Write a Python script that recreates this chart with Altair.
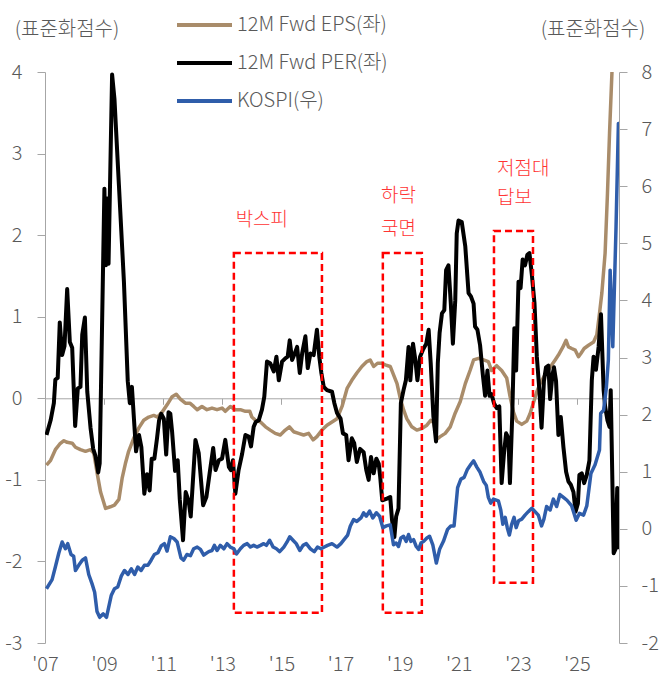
import altair as alt
import pandas as pd

# ---- series (standardised scores) ----
PER_YEAR = [2007.05, 2007.19, 2007.30, 2007.35, 2007.43, 2007.50, 2007.58, 2007.66, 2007.75, 2007.84,
            2007.92, 2008.02, 2008.11, 2008.20, 2008.26, 2008.35, 2008.43, 2008.54, 2008.63, 2008.71,
            2008.80, 2008.85, 2009.01, 2009.06, 2009.11, 2009.15, 2009.27, 2009.35, 2009.50, 2009.67,
            2009.80, 2009.87, 2009.94, 2010.08, 2010.18, 2010.26, 2010.36, 2010.45, 2010.54, 2010.61,
            2010.70, 2010.79, 2010.86, 2010.93, 2011.02, 2011.10, 2011.18, 2011.24, 2011.30, 2011.40,
            2011.49, 2011.56, 2011.67, 2011.76, 2011.86, 2011.93, 2012.09, 2012.20, 2012.35, 2012.46,
            2012.57, 2012.69, 2012.77, 2012.88, 2012.99, 2013.10, 2013.22, 2013.29, 2013.36, 2013.44,
            2013.55, 2013.67, 2013.78, 2013.89, 2013.97, 2014.06, 2014.13, 2014.23, 2014.34, 2014.42,
            2014.51, 2014.62, 2014.74, 2014.83, 2014.91, 2015.02, 2015.13, 2015.21, 2015.28, 2015.36,
            2015.45, 2015.53, 2015.62, 2015.70, 2015.81, 2015.89, 2015.98, 2016.09, 2016.20, 2016.28,
            2016.35, 2016.43, 2016.54, 2016.71, 2016.79, 2016.88, 2017.00, 2017.08, 2017.19, 2017.27,
            2017.38, 2017.46, 2017.55, 2017.66, 2017.78, 2017.87, 2017.95, 2018.03, 2018.12, 2018.21,
            2018.29, 2018.34, 2018.41, 2018.57, 2018.68, 2018.74, 2018.82, 2018.88, 2018.96, 2019.04,
            2019.13, 2019.21, 2019.30, 2019.36, 2019.45, 2019.53, 2019.60, 2019.69, 2019.78, 2019.90,
            2019.98, 2020.05, 2020.14, 2020.23, 2020.29, 2020.35, 2020.43, 2020.51, 2020.57, 2020.65,
            2020.73, 2020.80, 2020.88, 2020.93, 2020.99, 2021.10, 2021.22, 2021.33, 2021.41, 2021.50,
            2021.55, 2021.63, 2021.72, 2021.81, 2021.89, 2021.97, 2022.04, 2022.11, 2022.19, 2022.28,
            2022.37, 2022.45, 2022.53, 2022.60, 2022.68, 2022.73, 2022.81, 2022.88, 2022.94, 2023.02,
            2023.09, 2023.16, 2023.24, 2023.32, 2023.39, 2023.47, 2023.56, 2023.64, 2023.73, 2023.80,
            2023.88, 2023.95, 2024.03, 2024.09, 2024.17, 2024.22, 2024.29, 2024.37, 2024.45, 2024.54,
            2024.63, 2024.71, 2024.79, 2024.88, 2024.95, 2025.03, 2025.08, 2025.16, 2025.24, 2025.33,
            2025.42, 2025.50, 2025.56, 2025.64, 2025.73, 2025.81, 2025.90, 2025.95, 2026.03, 2026.10,
            2026.14, 2026.24, 2026.30, 2026.36, 2026.40]
PER_VALUE = [-0.45, -0.27, -0.06, 0.23, 0.25, 0.93, 0.53, 0.64, 1.34, 0.69,
             0.62, -0.34, 0.12, 0.14, 0.78, 0.99, 0.08, -0.36, -0.62, -0.71,
             -0.91, -0.80, 2.57, 1.63, 2.45, 1.65, 3.97, 3.67, 2.62, 1.43,
             0.21, -0.06, 0.14, -0.65, -0.45, -0.60, -1.17, -0.93, -1.13, -0.74,
             -0.74, -0.49, -0.27, -0.19, -0.25, -0.69, -0.17, -0.19, -0.41, -0.89,
             -0.76, -1.24, -1.74, -1.15, -1.26, -1.45, -0.51, -0.67, -1.31, -1.21,
             -0.92, -0.61, -0.88, -0.76, -0.74, -0.51, -0.84, -0.88, -0.76, -1.17,
             -0.88, -0.68, -0.45, -0.47, -0.59, -0.35, -0.29, -0.27, -0.14, 0.02,
             0.45, 0.43, 0.33, 0.51, 0.22, 0.45, 0.49, 0.51, 0.71, 0.47,
             0.55, 0.63, 0.31, 0.55, 0.76, 0.37, 0.55, 0.53, 0.84, 0.51,
             0.31, 0.14, 0.10, 0.08, -0.06, -0.18, -0.25, -0.43, -0.45, -0.76,
             -0.49, -0.55, -0.78, -0.62, -0.66, -0.88, -1.00, -0.72, -0.92, -0.74,
             -0.80, -0.96, -1.25, -1.23, -1.21, -1.49, -1.70, -1.45, -1.35, -0.06,
             0.10, 0.22, 0.63, 0.22, 0.67, 0.47, 0.22, 0.51, 0.59, 0.67,
             0.84, 0.43, -0.22, -0.53, 0.43, 0.80, 1.04, 1.08, 1.57, 1.63,
             1.16, 0.67, 1.20, 2.02, 2.18, 2.16, 1.86, 1.29, 1.25, 1.16,
             0.88, 0.84, 0.65, 0.30, 0.03, 0.34, 0.03, 0.05, -0.06, -0.12,
             -0.10, -1.04, -0.67, -0.43, -0.49, -1.04, -0.19, 0.86, 0.34, 1.43,
             1.35, 1.70, 1.63, 1.76, 1.78, 1.52, 1.17, 0.51, 0.08, -0.36,
             0.21, 0.38, 0.40, -0.01, 0.29, 0.38, 0.21, -0.45, -0.23, -0.60,
             -0.90, -1.02, -1.06, -1.15, -1.39, -1.29, -0.94, -0.92, -1.04, -0.94,
             -0.76, 0.22, 0.51, 0.35, 0.63, 1.03, 0.10, -0.10, -0.27, -0.35,
             0.10, -1.90, -1.85, -1.10, -1.85]

EPS_YEAR = [2007.05, 2007.19, 2007.35, 2007.50, 2007.64, 2007.75, 2007.92, 2008.03, 2008.20, 2008.37,
            2008.54, 2008.65, 2008.77, 2008.88, 2009.05, 2009.21, 2009.35, 2009.50, 2009.61, 2009.72,
            2009.83, 2010.00, 2010.18, 2010.34, 2010.51, 2010.68, 2010.81, 2010.96, 2011.13, 2011.30,
            2011.44, 2011.58, 2011.75, 2011.90, 2012.03, 2012.15, 2012.31, 2012.48, 2012.65, 2012.82,
            2012.99, 2013.10, 2013.27, 2013.44, 2013.61, 2013.78, 2013.93, 2014.00, 2014.12, 2014.29,
            2014.46, 2014.62, 2014.79, 2014.96, 2015.13, 2015.27, 2015.41, 2015.58, 2015.75, 2015.92,
            2016.07, 2016.20, 2016.37, 2016.54, 2016.71, 2016.88, 2017.05, 2017.22, 2017.38, 2017.55,
            2017.72, 2017.89, 2018.00, 2018.12, 2018.25, 2018.40, 2018.51, 2018.68, 2018.79, 2018.91,
            2019.02, 2019.13, 2019.24, 2019.41, 2019.58, 2019.75, 2019.92, 2020.05, 2020.15, 2020.26,
            2020.37, 2020.54, 2020.71, 2020.88, 2021.05, 2021.22, 2021.39, 2021.50, 2021.67, 2021.84,
            2022.00, 2022.11, 2022.28, 2022.45, 2022.62, 2022.73, 2022.85, 2022.96, 2023.13, 2023.30,
            2023.41, 2023.52, 2023.64, 2023.75, 2023.92, 2024.09, 2024.26, 2024.37, 2024.51, 2024.63,
            2024.71, 2024.82, 2024.94, 2025.05, 2025.13, 2025.24, 2025.39, 2025.56, 2025.67, 2025.76,
            2025.84, 2025.95, 2026.03, 2026.10, 2026.18, 2026.22]
EPS_VALUE = [-0.82, -0.76, -0.63, -0.56, -0.52, -0.54, -0.55, -0.60, -0.63, -0.65,
             -0.63, -0.67, -0.93, -1.15, -1.35, -1.33, -1.31, -1.24, -0.98, -0.80,
             -0.65, -0.49, -0.36, -0.27, -0.23, -0.21, -0.23, -0.17, -0.08, 0.02,
             0.05, -0.01, -0.06, -0.06, -0.10, -0.14, -0.10, -0.14, -0.12, -0.14,
             -0.12, -0.16, -0.10, -0.14, -0.14, -0.16, -0.16, -0.23, -0.27, -0.29,
             -0.35, -0.39, -0.43, -0.45, -0.39, -0.35, -0.41, -0.43, -0.45, -0.43,
             -0.51, -0.47, -0.39, -0.33, -0.29, -0.25, -0.10, 0.12, 0.22, 0.31,
             0.39, 0.45, 0.47, 0.39, 0.43, 0.43, 0.41, 0.39, 0.29, 0.18,
             0.00, -0.14, -0.25, -0.35, -0.39, -0.37, -0.33, -0.27, -0.30, -0.50,
             -0.47, -0.43, -0.35, -0.18, -0.04, 0.18, 0.35, 0.47, 0.49, 0.47,
             0.45, 0.34, 0.40, 0.34, 0.25, 0.03, -0.17, -0.28, -0.32, -0.28,
             -0.19, -0.06, 0.08, 0.18, 0.29, 0.38, 0.47, 0.53, 0.62, 0.71,
             0.63, 0.61, 0.59, 0.51, 0.55, 0.61, 0.65, 0.69, 0.78, 1.04,
             1.29, 1.78, 2.51, 3.25, 3.98, 4.40]

KOSPI_YEAR = [2007.05, 2007.24, 2007.35, 2007.47, 2007.58, 2007.69, 2007.77, 2007.88, 2007.97, 2008.03,
              2008.14, 2008.26, 2008.37, 2008.48, 2008.59, 2008.68, 2008.76, 2008.85, 2008.97, 2009.08,
              2009.24, 2009.35, 2009.46, 2009.58, 2009.69, 2009.81, 2009.92, 2010.03, 2010.14, 2010.25,
              2010.36, 2010.48, 2010.59, 2010.70, 2010.82, 2010.93, 2011.04, 2011.13, 2011.24, 2011.36,
              2011.47, 2011.60, 2011.69, 2011.80, 2011.92, 2012.03, 2012.15, 2012.26, 2012.37, 2012.54,
              2012.65, 2012.73, 2012.82, 2012.93, 2013.05, 2013.16, 2013.27, 2013.39, 2013.48, 2013.61,
              2013.72, 2013.84, 2013.95, 2014.06, 2014.17, 2014.29, 2014.40, 2014.49, 2014.60, 2014.72,
              2014.83, 2014.94, 2015.08, 2015.19, 2015.28, 2015.39, 2015.50, 2015.62, 2015.73, 2015.84,
              2015.98, 2016.11, 2016.22, 2016.34, 2016.45, 2016.56, 2016.71, 2016.88, 2017.01, 2017.13,
              2017.24, 2017.33, 2017.44, 2017.55, 2017.69, 2017.78, 2017.87, 2017.98, 2018.09, 2018.21,
              2018.32, 2018.43, 2018.55, 2018.68, 2018.79, 2018.88, 2018.96, 2019.04, 2019.13, 2019.22,
              2019.30, 2019.38, 2019.47, 2019.56, 2019.64, 2019.72, 2019.81, 2019.92, 2020.01, 2020.12,
              2020.24, 2020.35, 2020.48, 2020.62, 2020.73, 2020.84, 2020.96, 2021.07, 2021.18, 2021.29,
              2021.41, 2021.50, 2021.61, 2021.72, 2021.84, 2021.93, 2022.00, 2022.08, 2022.17, 2022.34,
              2022.42, 2022.49, 2022.57, 2022.64, 2022.71, 2022.79, 2022.87, 2022.94, 2023.02, 2023.13,
              2023.24, 2023.35, 2023.47, 2023.58, 2023.69, 2023.80, 2023.88, 2023.97, 2024.09, 2024.20,
              2024.31, 2024.42, 2024.54, 2024.66, 2024.82, 2024.97, 2025.08, 2025.22, 2025.33, 2025.47,
              2025.61, 2025.76, 2025.80, 2025.90, 2025.99, 2026.06, 2026.12, 2026.21, 2026.32, 2026.40,
              2026.42]
KOSPI_VALUE = [-1.05, -0.89, -0.67, -0.42, -0.23, -0.35, -0.26, -0.45, -0.48, -0.73,
               -0.64, -0.55, -0.51, -0.80, -0.96, -1.11, -1.45, -1.55, -1.49, -1.55,
               -1.17, -1.05, -1.02, -0.83, -0.73, -0.80, -0.70, -0.80, -0.67, -0.73,
               -0.64, -0.64, -0.55, -0.45, -0.42, -0.30, -0.26, -0.39, -0.14, -0.17,
               -0.23, -0.51, -0.55, -0.45, -0.47, -0.35, -0.32, -0.36, -0.46, -0.40,
               -0.38, -0.29, -0.38, -0.29, -0.35, -0.26, -0.32, -0.35, -0.44, -0.35,
               -0.29, -0.26, -0.32, -0.29, -0.32, -0.29, -0.26, -0.29, -0.20, -0.32,
               -0.35, -0.40, -0.32, -0.23, -0.14, -0.20, -0.26, -0.38, -0.29, -0.26,
               -0.35, -0.40, -0.32, -0.35, -0.32, -0.29, -0.26, -0.32, -0.26, -0.18,
               -0.11, 0.05, 0.16, 0.13, 0.19, 0.28, 0.22, 0.31, 0.19, 0.28,
               0.22, 0.02, 0.05, 0.07, -0.28, -0.25, -0.31, -0.16, -0.13, -0.22,
               -0.10, -0.22, -0.19, -0.31, -0.36, -0.25, -0.22, -0.16, -0.13, -0.28,
               -0.60, -0.36, -0.22, -0.01, 0.05, 0.05, 0.72, 0.87, 0.90, 1.04,
               1.13, 1.19, 1.08, 0.99, 0.83, 0.76, 0.55, 0.45, 0.52, 0.49,
               0.33, 0.08, 0.20, 0.02, -0.11, 0.08, 0.20, 0.02, 0.14, 0.17,
               0.24, 0.30, 0.36, 0.30, 0.24, 0.05, 0.17, 0.39, 0.33, 0.52,
               0.39, 0.60, 0.55, 0.50, 0.40, 0.15, 0.27, 0.24, 0.40, 0.97,
               1.12, 1.38, 2.02, 2.08, 2.46, 2.96, 4.53, 3.19, 5.29, 7.10,
               6.23]

# ---- axes ----
TICK_YEARS = [2007, 2009, 2011, 2013, 2015, 2017, 2019, 2021, 2023, 2025]
LEFT_TICKS = [-3, -2, -1, 0, 1, 2, 3, 4]
RIGHT_TICKS = [-2, -1, 0, 1, 2, 3, 4, 5, 6, 7, 8]
AXIS_UNIT = "(표준화점수)"

# ---- legend ----
LEGEND_NAMES = ["12M Fwd EPS(좌)", "12M Fwd PER(좌)", "KOSPI(우)"]

# ---- highlighted periods (left-axis units) ----
ZONE_START = [2013.39, 2018.43, 2022.19]
ZONE_END = [2016.37, 2019.75, 2023.51]
ZONE_LOW = [-2.63, -2.63, -2.26]
ZONE_HIGH = [1.78, 1.78, 2.05]
ZONE_TEXT = ["박스피", "하락", "국면", "저점대", "답보"]
ZONE_TEXT_YEAR = [2013.45, 2018.37, 2018.37, 2022.29, 2022.29]
ZONE_TEXT_VALUE = [2.19, 2.48, 2.08, 2.81, 2.46]

# ---- style ----
FONT = "Noto Sans CJK KR"
TEXT_GRAY = "#595959"
AXIS_GRAY = "#A6A6A6"
C_EPS = "#A98C6A"
C_PER = "#000000"
C_KOSPI = "#2F5DAA"
C_ZONE = "#FF0000"
LEGEND_COLORS = [C_EPS, C_PER, C_KOSPI]

W, H = 574, 571
PAD_L, PAD_T = 45, 72
LEFT_MIN, LEFT_MAX = -3, 4
ZERO_OFFSET = -(H - H * LEFT_MAX / (LEFT_MAX - LEFT_MIN))

# plain hyphen for negative tick labels
NUM_LABEL = "toString(datum.value)"

x_axis = alt.Axis(
    values=TICK_YEARS,
    labelExpr="\"'\" + substring(toString(datum.value), 2)",
    offset=ZERO_OFFSET, tickSize=6, labelPadding=250,
    domainColor=AXIS_GRAY, tickColor=AXIS_GRAY, domainWidth=1, tickWidth=1,
    labelColor=TEXT_GRAY, labelFontSize=20, labelFont=FONT, labelFontWeight=300,
    labelOverlap=False, labelFlush=False, grid=False, title=None,
)
x_scale = alt.Scale(domain=[2007, 2026.42], nice=False, zero=False)

left_axis = alt.Axis(
    values=LEFT_TICKS, orient="left", tickSize=8, labelPadding=15, labelExpr=NUM_LABEL,
    domainColor=AXIS_GRAY, tickColor=AXIS_GRAY, domainWidth=1, tickWidth=1,
    labelColor=TEXT_GRAY, labelFontSize=20, labelFont=FONT, labelFontWeight=300,
    grid=False, title=None,
)
left_scale = alt.Scale(domain=[LEFT_MIN, LEFT_MAX], nice=False, zero=False)

right_axis = alt.Axis(
    values=RIGHT_TICKS, orient="right", tickSize=8, labelPadding=14, labelExpr=NUM_LABEL,
    domainColor=AXIS_GRAY, tickColor=AXIS_GRAY, domainWidth=1, tickWidth=1,
    labelColor=TEXT_GRAY, labelFontSize=20, labelFont=FONT, labelFontWeight=300,
    grid=False, title=None,
)
right_scale = alt.Scale(domain=[-2, 8], nice=False, zero=False)


def xenc(field):
    return alt.X(f"{field}:Q", scale=x_scale, axis=x_axis)


def yleft(field):
    return alt.Y(f"{field}:Q", scale=left_scale, axis=left_axis)


eps_df = pd.DataFrame({"year": EPS_YEAR, "value": EPS_VALUE})
per_df = pd.DataFrame({"year": PER_YEAR, "value": PER_VALUE})
kospi_df = pd.DataFrame({"year": KOSPI_YEAR, "value": KOSPI_VALUE})
zone_df = pd.DataFrame({"start": ZONE_START, "end": ZONE_END, "low": ZONE_LOW, "high": ZONE_HIGH})
zone_text_df = pd.DataFrame({"year": ZONE_TEXT_YEAR, "value": ZONE_TEXT_VALUE, "label": ZONE_TEXT})

eps_line = alt.Chart(eps_df).mark_line(
    color=C_EPS, strokeWidth=3.5, strokeJoin="round", clip=True
).encode(x=xenc("year"), y=yleft("value"), order="year:Q")

per_line = alt.Chart(per_df).mark_line(
    color=C_PER, strokeWidth=4, strokeJoin="round", clip=True
).encode(x=xenc("year"), y=yleft("value"), order="year:Q")

zones = alt.Chart(zone_df).mark_rect(
    fill="transparent", stroke=C_ZONE, strokeWidth=2.5, strokeDash=[7, 4]
).encode(x=xenc("start"), x2="end:Q", y=yleft("low"), y2="high:Q")

zone_labels = alt.Chart(zone_text_df).mark_text(
    color="#FF3333", font=FONT, fontSize=19, fontWeight=300, align="left", baseline="middle"
).encode(x=xenc("year"), y=yleft("value"), text="label:N")

left_layer = alt.layer(eps_line, per_line, zones, zone_labels)

kospi_line = alt.Chart(kospi_df).mark_line(
    color=C_KOSPI, strokeWidth=3.5, strokeJoin="round", clip=True
).encode(
    x=xenc("year"),
    y=alt.Y("value:Q", scale=right_scale, axis=right_axis),
    order="year:Q",
)

# legend and unit captions drawn above the plot area
decor = []
legend_rows_y = [-47, -9, 29]
for name, color, ry in zip(LEGEND_NAMES, LEGEND_COLORS, legend_rows_y):
    one = pd.DataFrame({"label": [name]})
    decor.append(
        alt.Chart(one).mark_rule(color=color, strokeWidth=4).encode(
            x=alt.value(132), x2=alt.value(187), y=alt.value(ry)
        )
    )
    decor.append(
        alt.Chart(one).mark_text(
            font=FONT, fontSize=20, fontWeight=300, color=TEXT_GRAY, align="left", baseline="middle"
        ).encode(x=alt.value(192), y=alt.value(ry), text="label:N")
    )

unit_df = pd.DataFrame({"label": [AXIS_UNIT]})
for ux in [22, 548]:
    decor.append(
        alt.Chart(unit_df).mark_text(
            font=FONT, fontSize=20, fontWeight=300, color=TEXT_GRAY, align="center", baseline="middle"
        ).encode(x=alt.value(ux), y=alt.value(-42), text="label:N")
    )

chart = (
    alt.layer(left_layer, kospi_line, *decor)
    .resolve_scale(y="independent")
    .properties(
        width=W,
        height=H,
        autosize=alt.AutoSizeParams(type="none"),
        padding={"left": PAD_L, "top": PAD_T, "right": 662 - PAD_L - W, "bottom": 686 - PAD_T - H},
        background="white",
    )
    .configure_view(strokeWidth=0)
)

chart.save("out.html", embed_options={"renderer": "svg", "actions": False})
